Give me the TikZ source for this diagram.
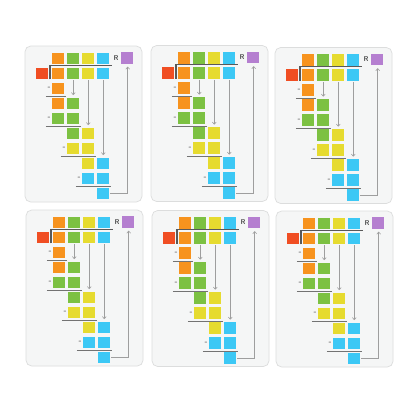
\documentclass[tikz,border=0pt]{standalone}
\usepackage{tikz}
\usetikzlibrary{calc,arrows.meta}

\definecolor{tileOrange}{HTML}{F7931E}
\definecolor{tileGreen}{HTML}{7CC142}
\definecolor{tileYellow}{HTML}{E6DB2F}
\definecolor{tileBlue}{HTML}{3CC8F5}
\definecolor{tileRed}{HTML}{F04E23}
\definecolor{tilePurple}{HTML}{B57FD0}
\definecolor{cardFill}{HTML}{F5F6F6}
\definecolor{cardEdge}{HTML}{DCDDDD}

%% one division card, #1 = name, (#2,#3) = top left corner
\newcommand{\divcard}[3]{%
  \begin{scope}[shift={(#2,#3)}]
    %% Card
    \draw[card] (0,0) rectangle (117,156);
    %% Tiles
    \foreach \rw/\cl/\tc in {0/0/tileOrange, 0/1/tileGreen, 0/2/tileYellow, 0/3/tileBlue,
        1/0/tileOrange, 1/1/tileGreen, 1/2/tileYellow, 1/3/tileBlue,
        2/0/tileOrange,
        3/0/tileOrange, 3/1/tileGreen,
        4/0/tileGreen, 4/1/tileGreen,
        5/1/tileGreen, 5/2/tileYellow,
        6/1/tileYellow, 6/2/tileYellow,
        7/2/tileYellow, 7/3/tileBlue,
        8/2/tileBlue, 8/3/tileBlue,
        9/3/tileBlue}
      \node[tile=\tc] (#1-\rw-\cl) at ({33.3+15*\cl},{12.5+15*\rw}) {};
    \node[tile=tileRed] (#1-div) at (16.8,27.5) {};
    \node[tile=tilePurple] (#1-res) at (101.7,11.8) {};
    \node[rlabel] (#1-R) at (91,11.6) {R};
    %% Bracket
    \draw[bracket] ($(#1-1-0.south west)+(-2.5,0)$) |- ($(#1-0-3.south east)+(2.9,1.1)$);
    %% Subtractions
    \foreach \rw/\cl/\last in {2/0/0, 4/0/1, 6/1/2, 8/2/3} {
      \node[minus] (#1-m\rw) at ($(#1-\rw-\cl.west)+(-3.4,0)$) {-};
      \draw[rule] ($(#1-\rw-\cl.south west)+(-6.5,2.3)$) -- ($(#1-\rw-\last.south east)+(1.6,2.3)$);
    }
    %% Bring down
    \draw[flow] ($(#1-1-1.south)+(0,1)$) -- ($(#1-3-1.north)+(0,-2.5)$);
    \draw[flow] ($(#1-1-2.south)+(0,1)$) -- ($(#1-5-2.north)+(0,-2.5)$);
    \draw[flow] ($(#1-1-3.south)+(0,1)$) -- ($(#1-7-3.north)+(0,-2.5)$);
    %% Remainder
    \draw[flow] ($(#1-9-3.east)+(1,0)$) -| ($(#1-res.south)+(1,3)$);
  \end{scope}}

\begin{document}
\begin{tikzpicture}[
    x=0.025cm, y=-0.025cm,
    card/.style={draw=cardEdge, fill=cardFill, line width=0.5pt, rounded corners=4pt},
    tile/.style={fill=#1, minimum size=0.29cm, inner sep=0pt, outer sep=0pt},
    rlabel/.style={font=\fontsize{5}{6}\sffamily\bfseries, text=black!70, inner sep=0pt},
    minus/.style={font=\fontsize{6}{6}\sffamily\bfseries, text=black!70, inner sep=0pt},
    bracket/.style={draw=black!65, line width=0.8pt},
    rule/.style={draw=black!55, line width=0.75pt},
    flow/.style={draw=black!38, line width=0.4pt, -{Straight Barb[length=1.6pt,width=2.8pt]}}
  ]
  \fill[white] (0,0) rectangle (416,416);
  \useasboundingbox (0,0) rectangle (416,416);
  %% Top row
  \divcard{c1}{25}{46}
  \divcard{c2}{151}{45.5}
  \divcard{c3}{275}{47.5}
  %% Bottom row
  \divcard{c4}{26}{210}
  \divcard{c5}{152}{210.5}
  \divcard{c6}{276}{211}
\end{tikzpicture}
\end{document}
